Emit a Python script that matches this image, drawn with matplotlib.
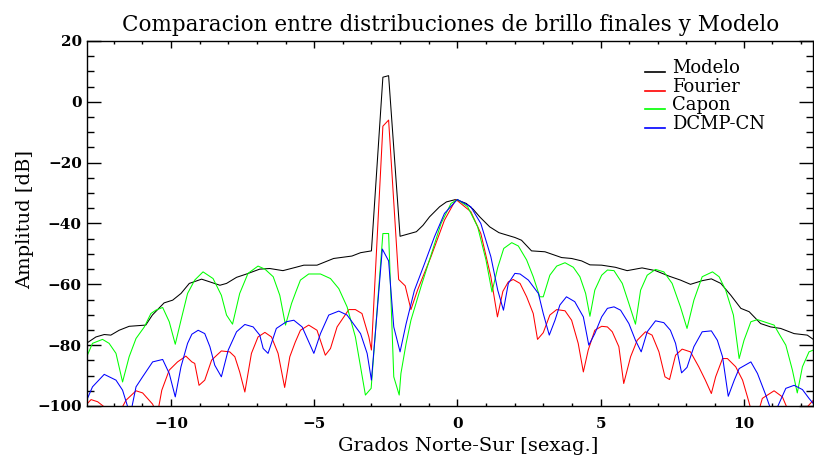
import matplotlib
matplotlib.use('Agg')
import matplotlib.pyplot as plt
import numpy as np
from matplotlib.ticker import MultipleLocator
from matplotlib.lines import Line2D
from matplotlib.legend_handler import HandlerLine2D

# Modelo (black)
modelo_x = [-12.92, -12.62, -12.33, -12.1, -11.81, -11.46, -10.88, -10.65, -10.24, -9.94,
            -9.65, -9.36, -8.93, -8.64, -8.29, -8.06, -7.71, -7.36, -6.9, -6.55,
            -6.09, -5.64, -5.36, -4.9, -4.32, -3.68, -3.38, -3.0, -2.6, -2.4,
            -2.0, -1.43, -1.2, -0.97, -0.62, -0.38, -0.05, 0.31, 0.55, 0.78,
            1.13, 1.45, 1.55, 2.01, 2.24, 2.59, 3.06, 3.64, 3.99, 4.34,
            4.63, 5.04, 5.52, 5.93, 6.45, 6.92, 7.39, 7.79, 8.14, 8.55,
            8.87, 9.2, 9.55, 9.9, 10.19, 10.59, 10.94, 11.29, 11.76, 12.22, 12.43]
modelo_y = [-79.2, -77.3, -76.5, -76.7, -75.1, -73.8, -73.4, -70.1, -66.1, -65.2,
            -63.0, -59.7, -58.3, -59.2, -60.3, -59.7, -57.7, -56.6, -55.0, -54.8,
            -55.5, -54.4, -53.7, -53.7, -51.5, -50.7, -49.6, -49.0, 8.1, 8.6,
            -44.2, -42.7, -40.6, -37.8, -34.5, -32.9, -32.1, -33.4, -35.3, -37.8,
            -41.1, -43.0, -43.3, -44.6, -45.5, -49.0, -49.3, -51.2, -51.5, -52.3,
            -53.6, -53.7, -54.4, -55.5, -54.6, -55.5, -57.3, -58.6, -60.0, -58.8,
            -58.2, -59.7, -63.6, -67.9, -69.0, -72.9, -74.0, -74.5, -76.2, -76.7, -78.1]

# Fourier (red)
fourier_x = [-12.97, -12.79, -12.56, -12.33, -12.1, -11.85, -11.57, -11.22, -10.99, -10.64,
             -10.48, -10.32, -10.06, -9.77, -9.48, -9.27, -9.17, -9.02, -8.82, -8.58,
             -8.24, -7.95, -7.77, -7.6, -7.42, -7.19, -6.96, -6.72, -6.49, -6.26,
             -6.03, -5.85, -5.66, -5.48, -5.19, -4.9, -4.61, -4.43, -4.2, -3.79,
             -3.56, -3.33, -3.09, -3.0, -2.6, -2.4, -2.05, -1.82, -1.62, -1.39,
             -0.92, -0.45, -0.05, 0.47, 0.82, 1.17, 1.4, 1.59, 1.78, 1.95,
             2.19, 2.42, 2.65, 2.8, 3.0, 3.23, 3.47, 3.76, 3.99, 4.22,
             4.4, 4.57, 4.8, 5.04, 5.24, 5.41, 5.64, 5.81, 6.05, 6.28,
             6.57, 6.8, 7.04, 7.25, 7.41, 7.62, 7.85, 8.14, 8.43, 8.66,
             8.87, 9.02, 9.26, 9.43, 9.72, 9.96, 10.13, 10.25, 10.45, 10.65,
             11.06, 11.35, 11.53, 11.85, 12.22, 12.43]
fourier_y = [-99.7, -97.9, -98.6, -100.3, -103, -103, -98.1, -95.0, -95.7, -99.4,
             -103, -94.8, -88.2, -85.5, -83.6, -85.5, -86.0, -93.2, -91.5, -84.9,
             -81.9, -82.2, -83.8, -88.8, -95.4, -82.7, -77.3, -75.8, -77.3, -82.7,
             -93.9, -83.8, -79.0, -75.1, -73.4, -75.1, -83.3, -81.1, -74.0, -68.3,
             -68.3, -69.6, -77.3, -81.6, -8.0, -6.0, -58.4, -60.5, -68.3, -61.9,
             -50.9, -38.9, -32.1, -36.1, -43.3, -57.5, -70.7, -62.3, -59.2, -58.4,
             -59.7, -64.1, -69.6, -78.1, -75.9, -70.1, -68.3, -68.7, -71.8, -79.4,
             -88.8, -81.6, -75.1, -73.8, -74.0, -75.6, -80.5, -92.6, -83.8, -78.4,
             -75.6, -76.7, -82.2, -90.4, -91.3, -83.3, -81.3, -82.2, -87.1, -91.5,
             -95.9, -90.4, -84.4, -84.4, -87.1, -91.5, -97.0, -101, -104, -97.5,
             -95.0, -97.0, -101, -104, -100.3, -98.1]

# Capon (green)
capon_x = [-12.97, -12.74, -12.39, -12.16, -11.92, -11.69, -11.46, -11.22, -10.93, -10.7,
           -10.53, -10.29, -10.06, -9.85, -9.65, -9.42, -9.17, -8.88, -8.53, -8.24,
           -8.06, -7.85, -7.6, -7.31, -6.96, -6.72, -6.43, -6.2, -6.0, -5.79,
           -5.64, -5.48, -5.19, -4.78, -4.43, -4.14, -3.85, -3.56, -3.21, -3.01,
           -2.6, -2.4, -2.22, -2.03, -1.97, -1.79, -1.62, -1.27, -0.92, -0.57,
           -0.22, 0.0, 0.36, 0.71, 1.0, 1.21, 1.41, 1.62, 1.9, 2.13,
           2.42, 2.65, 2.88, 3.0, 3.23, 3.47, 3.76, 4.05, 4.28, 4.48,
           4.63, 4.8, 5.04, 5.24, 5.47, 5.76, 5.99, 6.22, 6.4, 6.63,
           6.92, 7.21, 7.5, 7.79, 8.02, 8.26, 8.55, 8.91, 9.14, 9.37,
           9.64, 9.84, 10.01, 10.25, 10.48, 11.06, 11.23, 11.47, 11.7, 11.87,
           12.05, 12.28, 12.43]
capon_y = [-84.4, -79.4, -78.1, -79.4, -82.7, -92.1, -83.8, -77.8, -74.0, -69.6,
           -68.5, -67.6, -72.3, -79.7, -71.8, -63.0, -58.6, -55.9, -58.1, -63.6,
           -70.1, -73.1, -63.0, -56.4, -54.0, -55.0, -57.5, -63.6, -73.4, -66.3,
           -62.5, -58.6, -56.6, -56.6, -58.1, -61.4, -67.4, -77.3, -96.4, -94.2,
           -43.3, -43.3, -90.4, -96.4, -89.3, -79.5, -71.8, -60.8, -50.4, -40.0,
           -33.4, -32.1, -34.5, -41.1, -52.0, -62.5, -54.5, -48.2, -46.3, -47.4,
           -52.0, -57.5, -64.1, -64.1, -57.0, -54.0, -52.9, -54.4, -57.5, -63.0,
           -70.5, -61.9, -57.0, -55.3, -55.5, -59.7, -66.3, -73.1, -61.9, -57.0,
           -55.1, -55.9, -59.7, -67.4, -74.5, -65.2, -57.5, -55.9, -57.5, -61.9,
           -70.1, -84.4, -78.4, -72.3, -71.6, -73.4, -76.2, -80.0, -88.2, -95.7,
           -87.1, -82.2, -81.6]

# DCMP-CN (blue)
dcmp_x = [-12.97, -12.74, -12.33, -11.92, -11.69, -11.51, -11.4, -11.22, -10.99, -10.64,
          -10.29, -10.06, -9.85, -9.65, -9.42, -9.27, -9.05, -8.82, -8.64, -8.47,
          -8.24, -8.0, -7.71, -7.42, -7.13, -6.9, -6.78, -6.61, -6.32, -5.97,
          -5.71, -5.42, -5.01, -4.78, -4.49, -4.14, -3.85, -3.38, -3.15, -3.0,
          -2.62, -2.4, -2.22, -2.0, -1.79, -1.5, -1.15, -0.8, -0.45, 0.0,
          0.47, 0.82, 1.17, 1.41, 1.61, 1.78, 2.01, 2.19, 2.48, 2.83,
          3.0, 3.21, 3.41, 3.58, 3.81, 4.1, 4.4, 4.59, 4.8, 5.04,
          5.24, 5.47, 5.7, 5.99, 6.22, 6.42, 6.63, 6.92, 7.21, 7.44,
          7.62, 7.83, 8.02, 8.26, 8.55, 8.87, 9.08, 9.26, 9.46, 9.67,
          9.84, 10.25, 10.48, 10.77, 10.94, 11.18, 11.47, 11.76, 12.05, 12.28, 12.43]
dcmp_y = [-98.7, -93.7, -89.6, -91.5, -94.8, -100.3, -102, -93.7, -90.4, -85.5,
          -84.7, -89.3, -97.0, -87.1, -79.4, -76.4, -75.1, -76.2, -80.5, -86.6,
          -90.4, -81.6, -75.6, -73.2, -74.0, -76.7, -81.1, -82.7, -74.5, -72.3,
          -71.8, -74.0, -82.7, -76.2, -70.1, -68.8, -70.1, -76.2, -82.7, -91.5,
          -48.4, -52.3, -74.0, -82.2, -73.0, -62.0, -53.3, -44.4, -36.7, -32.1,
          -34.5, -40.0, -50.9, -61.9, -68.5, -59.7, -56.4, -56.6, -58.6, -63.0,
          -69.6, -76.7, -71.8, -66.8, -64.1, -65.7, -70.7, -80.0, -76.2, -70.7,
          -67.9, -67.4, -68.5, -72.9, -78.4, -82.2, -75.6, -72.0, -72.6, -75.1,
          -79.4, -89.1, -87.3, -80.5, -75.6, -75.3, -78.4, -83.8, -96.8, -91.5,
          -87.7, -85.5, -89.3, -96.4, -101, -100.3, -94.2, -93.2, -94.6, -97.5, -99.2]

labels = ['Modelo', 'Fourier', 'Capon', 'DCMP-CN']
colores = ['black', '#ff0000', '#00ff00', '#0000ff']


# linea de la leyenda a la altura de la base del texto (como IDL)
class LineaBaja(HandlerLine2D):
    def create_artists(self, legend, orig_handle, xdescent, ydescent, width, height, fontsize, trans):
        arts = super().create_artists(legend, orig_handle, xdescent, ydescent,
                                      width, height, fontsize, trans)
        for a in arts:
            a.set_ydata(np.asarray(a.get_ydata()) - 0.3 * fontsize)
        return arts


plt.rcParams['font.family'] = 'DejaVu Serif'

fig = plt.figure(figsize=(8.14, 4.57), dpi=100)
ax = fig.add_axes([0.1073, 0.1116, 0.8915, 0.7987])

lw = 0.75
ax.plot(modelo_x, modelo_y, color=colores[0], lw=lw)
ax.plot(fourier_x, fourier_y, color=colores[1], lw=lw)
ax.plot(capon_x, capon_y, color=colores[2], lw=lw)
ax.plot(dcmp_x, dcmp_y, color=colores[3], lw=lw)

ax.set_xlim(-12.92, 12.42)
ax.set_ylim(-100, 20)

# ticks estilo IDL
ax.xaxis.set_major_locator(MultipleLocator(5))
ax.xaxis.set_minor_locator(MultipleLocator(1))
ax.yaxis.set_major_locator(MultipleLocator(20))
ax.yaxis.set_minor_locator(MultipleLocator(5))
ax.tick_params(axis='x', which='major', direction='in', length=5, width=1, top=True, pad=8)
ax.tick_params(axis='x', which='minor', direction='in', length=2.5, width=1, top=True)
ax.tick_params(axis='y', which='major', direction='in', length=10, width=1, right=True, pad=4)
ax.tick_params(axis='y', which='minor', direction='in', length=5, width=1, right=True)
for lab in ax.get_xticklabels() + ax.get_yticklabels():
    lab.set_fontweight('bold')
    lab.set_fontsize(11)
for sp in ax.spines.values():
    sp.set_linewidth(1)

ax.set_title('Comparacion entre distribuciones de brillo finales y Modelo', fontsize=15.5, pad=7)
ax.set_xlabel('Grados Norte-Sur [sexag.]', fontsize=14)
ax.set_ylabel('Amplitud [dB]', fontsize=14)
ax.xaxis.set_label_coords(0.525, -0.085)
ax.yaxis.set_label_coords(-0.074, 0.51)

handles = [Line2D([], [], color=c, lw=1.2) for c in colores]
ax.legend(handles, labels, loc='upper left', bbox_to_anchor=(0.792, 0.871),
          bbox_transform=fig.transFigure, frameon=False, fontsize=13,
          handlelength=1.1, handletextpad=0.43, labelspacing=0.04, borderpad=0,
          borderaxespad=0, handler_map={Line2D: LineaBaja()})

fig.savefig('out.png', dpi=100)
